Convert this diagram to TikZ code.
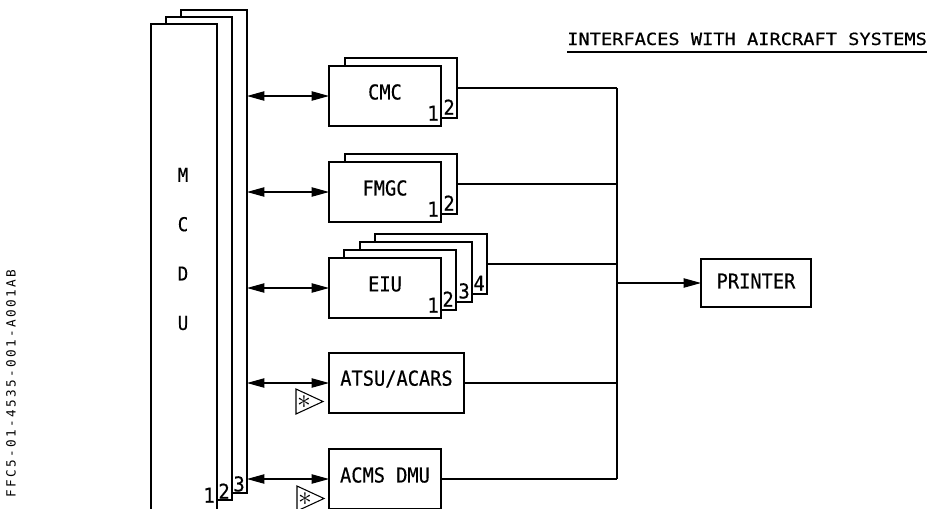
\documentclass[tikz,border=0pt]{standalone}
\usepackage{fontspec}
\usepackage{graphicx}
\newfontfamily\monofont[FakeBold=0.5]{DejaVu Sans Mono}
\newfontfamily\plainmono{DejaVu Sans Mono}
\usetikzlibrary{arrows.meta}
\newcommand\boxfont{\monofont\fontsize{14}{16}\selectfont}
\newcommand\bx[1]{\scalebox{1}[1.1]{#1}}
\newcommand\codechars[1]{\codeaux#1\relax}
\def\codeaux#1{\ifx#1\relax\else\makebox[7.5pt]{#1}\expandafter\codeaux\fi}
\begin{document}
\begin{tikzpicture}[x=0.75pt,y=-0.75pt,
  ln/.style={line width=0.8pt},
  page/.style={draw, fill=white, line width=0.8pt, inner sep=0, outer sep=0, anchor=north west, minimum width=49.5pt},
  box/.style={draw, fill=white, line width=0.8pt, inner sep=0, outer sep=0, anchor=north west, minimum width=84pt, minimum height=45pt},
  boxtext/.style={font=\boxfont, inner sep=0, yshift=3pt},
  num/.style={font=\boxfont, inner sep=0, anchor=south east},
  arr/.style={line width=0.8pt, {Triangle[length=13pt,width=7pt]}-{Triangle[length=13pt,width=7pt]}},
  arrone/.style={line width=0.8pt, -{Triangle[length=13pt,width=7pt]}},
  tri/.style={line width=0.8pt, fill=white},
  star/.style={font=\fontsize{21}{21}\selectfont, inner sep=0}]
\useasboundingbox (0,0) rectangle (934,508);

% code
\node[rotate=90, inner sep=0, font=\plainmono\fontsize{9.5}{10}\selectfont] (code) at (11,384) {\codechars{FFC5-01-4535-001-A001AB}};

% title
\node[anchor=base west, inner sep=0, font=\boxfont] (title) at (567,45) {\scalebox{1}[0.9]{INTERFACES WITH AIRCRAFT SYSTEMS}};
\draw[ln] ([yshift=-5.25pt]title.base west) -- ([yshift=-5.25pt]title.base east);

% MCDU pages
\node[page, minimum height=362.25pt] (mcdu3) at (181,10) {};
\node[num] (mcdun3) at ([shift={(-2,-1)}]mcdu3.south east) {\bx{3}};
\node[page, minimum height=362.25pt] (mcdu2) at (166,17) {};
\node[num] (mcdun2) at ([shift={(-2,-1)}]mcdu2.south east) {\bx{2}};
\node[page, minimum height=366pt] (mcdu1) at (151,24) {};
\node[num] (mcdun1) at ([shift={(-2,-9)}]mcdu1.south east) {\bx{1}};
\node[align=center, font=\monofont\fontsize{13}{37}\selectfont, inner sep=0] (mcdul) at (183,249) {\bx{M}\\\bx{C}\\\bx{D}\\\bx{U}};

% CMC
\node[box] (cmc2) at (345,58) {};
\node[num] (cmcn2) at ([shift={(-2,-3)}]cmc2.south east) {\bx{2}};
\node[box, label={[boxtext]center:\bx{CMC}}] (cmc) at (329,66) {};
\node[num] (cmcn1) at ([shift={(-2,-5)}]cmc.south east) {\bx{1}};

% FMGC
\node[box] (fmgc2) at (345,154) {};
\node[num] (fmgcn2) at ([shift={(-2,-3)}]fmgc2.south east) {\bx{2}};
\node[box, label={[boxtext]center:\bx{FMGC}}] (fmgc) at (329,162) {};
\node[num] (fmgcn1) at ([shift={(-2,-5)}]fmgc.south east) {\bx{1}};

% EIU
\node[box] (eiu4) at (375,234) {};
\node[num] (eiun4) at ([shift={(-2,-3)}]eiu4.south east) {\bx{4}};
\node[box] (eiu3) at (360,242) {};
\node[num] (eiun3) at ([shift={(-2,-3)}]eiu3.south east) {\bx{3}};
\node[box] (eiu2) at (344,250) {};
\node[num] (eiun2) at ([shift={(-2,-3)}]eiu2.south east) {\bx{2}};
\node[box, label={[boxtext]center:\bx{EIU}}] (eiu) at (329,258) {};
\node[num] (eiun1) at ([shift={(-2,-5)}]eiu.south east) {\bx{1}};

% ATSU/ACARS
\node[box, minimum width=101.25pt, label={[boxtext]center:\bx{ATSU/ACARS}}] (atsu) at (329,353) {};

% ACMS DMU
\node[box, label={[boxtext]center:\bx{ACMS\hspace{0.6em}DMU}}] (acms) at (329,449) {};

% PRINTER
\node[box, minimum width=82.5pt, minimum height=36pt, label={[boxtext, yshift=-1.5pt]center:\bx{PRINTER}}] (printer) at (701,259) {};

% MCDU arrows
\draw[arr] (cmc.west -| mcdu3.east) -- (cmc.west);
\draw[arr] (fmgc.west -| mcdu3.east) -- (fmgc.west);
\draw[arr] (eiu.west -| mcdu3.east) -- (eiu.west);
\draw[arr] (atsu.west -| mcdu3.east) -- (atsu.west);
\draw[arr] (acms.west -| mcdu3.east) -- (acms.west);

% bus
\coordinate (busx) at (617,0);
\draw[ln] (cmc2.east) -- (cmc2.east -| busx);
\draw[ln] (fmgc2.east) -- (fmgc2.east -| busx);
\draw[ln] (eiu4.east) -- (eiu4.east -| busx);
\draw[ln] (atsu.east) -- (atsu.east -| busx);
\draw[ln] (acms.east) -- (acms.east -| busx);
\draw[ln] (cmc2.east -| busx) -- (acms.east -| busx);
\draw[arrone] (printer.west -| busx) -- (printer.west);

% star triangles
\draw[tri] (296,389) -- (296,414) -- (323,401.5) -- cycle;
\node[star] (star1) at (304,402) {$\ast$};
\draw[tri] (297,486) -- (297,511) -- (324,498.5) -- cycle;
\node[star] (star2) at (305,499) {$\ast$};
\end{tikzpicture}
\end{document}
